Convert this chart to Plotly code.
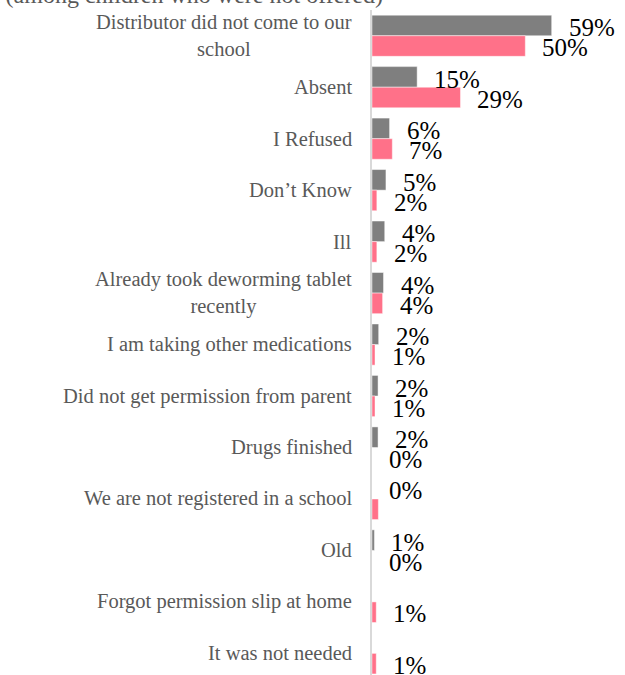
import plotly.graph_objects as go

categories = [
    "Distributor did not come to our<br>school",
    "Absent",
    "I Refused",
    "Don’t Know",
    "Ill",
    "Already took deworming tablet<br>recently",
    "I am taking other medications",
    "Did not get permission from parent",
    "Drugs finished",
    "We are not registered in a school",
    "Old",
    "Forgot permission slip at home",
    "It was not needed",
]
gray_values = [59.3, 14.9, 5.8, 4.6, 4.2, 3.8, 2.2, 2.0, 2.0, 0.0, 0.8, None, None]
pink_values = [50.6, 29.2, 6.7, 1.6, 1.6, 3.5, 1.0, 1.0, 0.0, 2.1, 0.0, 1.4, 1.4]
gray_labels = ["59%", "15%", "6%", "5%", "4%", "4%", "2%", "2%", "2%", "0%", "1%", "", ""]
pink_labels = ["50%", "29%", "7%", "2%", "2%", "4%", "1%", "1%", "0%", "", "0%", "1%", "1%"]

GRAY = "#7f7f7f"
PINK = "#ff7189"
FONT = "Liberation Serif"

idx = list(range(len(categories)))

fig = go.Figure()
fig.add_trace(go.Bar(
    y=idx, x=gray_values, orientation="h", name="A",
    marker=dict(color=GRAY, line=dict(color="rgba(255,255,255,0.45)", width=1)),
))
fig.add_trace(go.Bar(
    y=idx, x=pink_values, orientation="h", name="B",
    marker=dict(color=PINK, line=dict(color="rgba(255,255,255,0.45)", width=1)),
))

annotations = []
# category labels
for i, c in enumerate(categories):
    annotations.append(dict(
        xref="paper", yref="y", x=0, y=i, xanchor="right", yanchor="middle",
        xshift=-18, text=c, showarrow=False, align="center",
        font=dict(family=FONT, size=20.5, color="#595959"),
    ))
# data labels
for i in idx:
    if gray_labels[i]:
        annotations.append(dict(
            xref="x", yref="y", x=gray_values[i] or 0, y=i, xanchor="left",
            yanchor="middle", xshift=15, yshift=8, text=gray_labels[i],
            showarrow=False, font=dict(family=FONT, size=25, color="#000000"),
        ))
    if pink_labels[i]:
        annotations.append(dict(
            xref="x", yref="y", x=pink_values[i] or 0, y=i, xanchor="left",
            yanchor="middle", xshift=15, yshift=-12, text=pink_labels[i],
            showarrow=False, font=dict(family=FONT, size=25, color="#000000"),
        ))
# clipped title at top
annotations.append(dict(
    xref="paper", yref="paper", x=0, y=1, xanchor="right", yanchor="bottom",
    xshift=13, yshift=0,
    text="Reasons for not taking the deworming tablet (among children who were not offered)",
    showarrow=False, font=dict(family=FONT, size=24, color="#595959"),
))

fig.update_layout(
    width=625, height=675,
    margin=dict(l=372, r=0, t=10, b=0),
    paper_bgcolor="white", plot_bgcolor="white",
    barmode="group", bargap=0.2, bargroupgap=0,
    showlegend=False,
    annotations=annotations,
    xaxis=dict(range=[0, 83.5], showgrid=False, zeroline=False,
               showticklabels=False, showline=False),
    yaxis=dict(range=[12.42, -0.5], showgrid=False, zeroline=False,
               showticklabels=False, showline=True, linecolor="#d9d9d9",
               linewidth=2, ticks=""),
)

fig.write_html("out.html", config={"displayModeBar": False},
               post_script="document.body.style.margin='0';")
